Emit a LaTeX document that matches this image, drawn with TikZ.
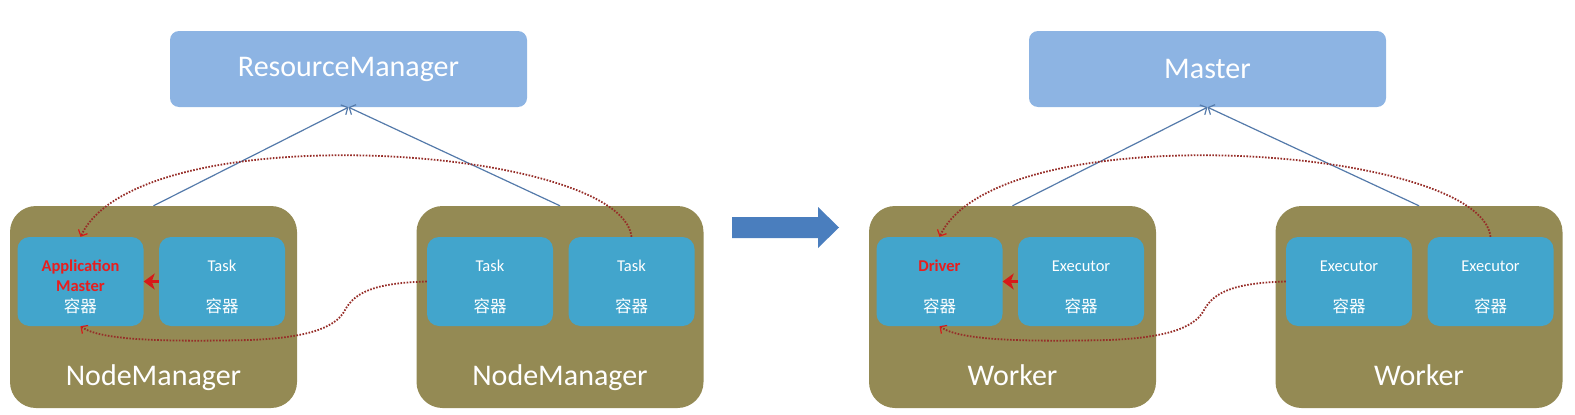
\documentclass[tikz,border=0pt]{standalone}
\usepackage{fontspec}
\setmainfont{Carlito}
\newfontfamily\cjk{Noto Sans CJK SC}
\usepackage{tikz}
\usetikzlibrary{arrows.meta}

\definecolor{mgrblue}{RGB}{141,180,227}
\definecolor{hostolive}{RGB}{148,138,84}
\definecolor{ctrcyan}{RGB}{66,165,204}
\definecolor{linkblue}{RGB}{84,122,170}
\definecolor{bigblue}{RGB}{74,126,190}
\definecolor{dotred}{RGB}{150,45,40}
\definecolor{tipred}{RGB}{215,25,25}
\definecolor{hotred}{RGB}{232,30,30}

\begin{document}
\begin{tikzpicture}[x=1pt, y=-1pt,
    % Define styles for the boxes
    topbox/.style={rectangle, fill=mgrblue, rounded corners=9pt, minimum width=357pt, minimum height=76pt, text=white, font=\fontsize{30}{36}\selectfont},
    hostbox/.style={rectangle, fill=hostolive, rounded corners=26pt, minimum width=287pt, minimum height=202pt},
    hostname/.style={text=white, anchor=base, font=\fontsize{30}{36}\selectfont},
    ctr/.style={rectangle, fill=ctrcyan, rounded corners=12pt, minimum width=126pt, minimum height=89pt, text=white, align=center, font=\fontsize{16.5}{20}\selectfont},
    % Define connector styles
    link/.style={draw=linkblue, line width=1.2pt, -{Straight Barb[length=5pt,width=11pt]}},
    msg/.style={draw=dotred, line width=1.8pt, dash pattern=on 1.6pt off 1.5pt, -{Straight Barb[length=5pt,width=10pt,line width=1.2pt,color=tipred]}},
    stub/.style={draw=tipred, line width=2.5pt, -{Stealth[length=11pt,width=16pt,inset=3pt]}}
]
    \useasboundingbox (0,0) rectangle (1575,415);

    % --- Helper Macros ---
    % Container text: label on top, 容器 below
    \newcommand{\ctrtext}[1]{\rule{0pt}{22pt}#1\\[21pt]{\cjk 容器}}
    % Arguments: (prefix, x shift, top label, host label, main container, worker label)
    \newcommand{\drawside}[6]{
        \begin{scope}[xshift=#2]
        \node[topbox] (#1top) at (348.5,69) {#3};
        % the two hosts
        \node[hostbox] (#1h1) at (153.5,307) {};
        \node[hostbox] (#1h2) at (560,307) {};
        \node[hostname] (#1n1) at (153.5,385) {#4};
        \node[hostname] (#1n2) at (560,385) {#4};
        % containers
        \node[ctr] (#1c1) at (80.5,281.5) {#5};
        \node[ctr] (#1c2) at (222,281.5) {\ctrtext{#6}};
        \node[ctr] (#1c3) at (490,281.5) {\ctrtext{#6}};
        \node[ctr] (#1c4) at (631.5,281.5) {\ctrtext{#6}};
        % hosts report to the top box
        \draw[link] (#1h1.north) -- (#1top.south);
        \draw[link] (#1h2.north) -- (#1top.south);
        % messages to the main container
        \draw[msg] (#1c4.north) .. controls (622,146) and (140,112) .. (#1c1.north);
        \draw[msg] (#1c3.west) .. controls (375,283) and (355,292) .. (345,310)
            .. controls (335,330) and (300,338) .. (250,340)
            .. controls (160,342) and (100,340) .. (#1c1.south);
        \draw[stub] (#1c2.west) -- (#1c1.east);
        \end{scope}
    }

    % ================= LEFT: YARN =================
    \drawside{Y}{0}{ResourceManager}{NodeManager}
        {\rule{0pt}{22pt}\textcolor{hotred}{\bfseries Application}\\\textcolor{hotred}{\bfseries Master}\\[1pt]{\cjk 容器}}
        {Task}

    % --- big arrow between the two ---
    \fill[bigblue] (732,217) -- (818,217) -- (818,207) -- (839,227.5)
        -- (818,248) -- (818,238) -- (732,238) -- cycle;

    % ================= RIGHT: SPARK =================
    \drawside{S}{859}{Master}{Worker}
        {\rule{0pt}{22pt}\textcolor{hotred}{\bfseries Driver}\\[21pt]{\cjk 容器}}
        {Executor}

\end{tikzpicture}
\end{document}
